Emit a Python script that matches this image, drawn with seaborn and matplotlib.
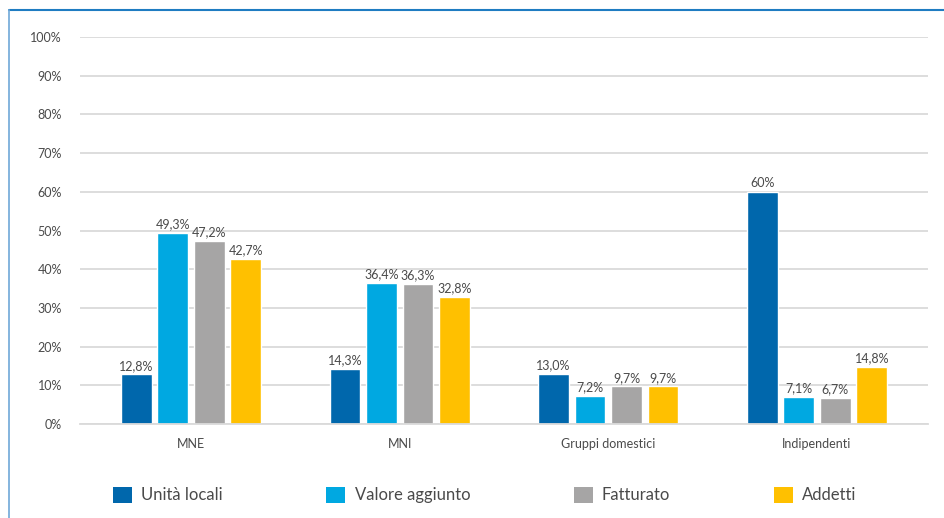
import matplotlib
matplotlib.use("Agg")
import matplotlib.pyplot as plt
from matplotlib.lines import Line2D
from matplotlib.patches import Patch
import seaborn as sns
import pandas as pd

categories = ["MNE", "MNI", "Gruppi domestici", "Indipendenti"]
series = ["Unità locali", "Valore aggiunto", "Fatturato", "Addetti"]
unita_locali = [12.8, 14.3, 13.0, 60.0]
valore_aggiunto = [49.3, 36.4, 7.2, 7.1]
fatturato = [47.2, 36.3, 9.7, 6.7]
addetti = [42.7, 32.8, 9.7, 14.8]
bar_labels = {
    "Unità locali": ["12,8%", "14,3%", "13,0%", "60%"],
    "Valore aggiunto": ["49,3%", "36,4%", "7,2%", "7,1%"],
    "Fatturato": ["47,2%", "36,3%", "9,7%", "6,7%"],
    "Addetti": ["42,7%", "32,8%", "9,7%", "14,8%"],
}
colors = ["#0067AC", "#00A8E1", "#A6A5A5", "#FFC000"]

rows = []
for name, vals in zip(series, [unita_locali, valore_aggiunto, fatturato, addetti]):
    for cat, v in zip(categories, vals):
        rows.append({"categoria": cat, "serie": name, "valore": v})
df = pd.DataFrame(rows)

sns.set_theme(style="white")
plt.rcParams["font.family"] = ["Lato", "DejaVu Sans"]
text_color = "#4a4a4a"

fig = plt.figure(figsize=(9.45, 5.18), dpi=100)
ax = fig.add_axes([80 / 945, 1 - 424 / 518, 848 / 945, 387 / 518])

sns.barplot(data=df, x="categoria", y="valore", hue="serie", order=categories,
            hue_order=series, palette=colors, width=0.70, gap=0.16,
            ax=ax, legend=False, saturation=1)

for container, name in zip(ax.containers, series):
    ax.bar_label(container, labels=bar_labels[name], padding=2,
                 fontsize=9, color=text_color)

ax.set_ylim(0, 100)
ax.set_xlim(-0.532, 3.532)
ax.set_yticks(range(0, 101, 10))
ax.set_yticklabels([f"{t}%" for t in range(0, 101, 10)])
ax.yaxis.grid(True, color="#dadada", linewidth=1.3)
ax.set_axisbelow(True)
for s in ["top", "right", "left"]:
    ax.spines[s].set_visible(False)
ax.spines["bottom"].set_color("#dadada")
ax.spines["bottom"].set_linewidth(1.3)
ax.tick_params(axis="y", length=0, pad=13, labelsize=9, labelcolor=text_color)
ax.tick_params(axis="x", length=0, pad=10, labelsize=9, labelcolor=text_color)
ax.set_xlabel("")
ax.set_ylabel("")

handles = [Patch(facecolor=c, edgecolor="none") for c in colors]
fig.legend(handles, series, loc="center left", bbox_to_anchor=(113 / 945, 1 - 495 / 518),
           ncol=4, frameon=False, fontsize=12, handlelength=1.15, handleheight=1.1,
           handletextpad=0.55, columnspacing=6.2, labelcolor=text_color,
           borderpad=0, borderaxespad=0)

# frame line at top and left
fig.add_artist(Line2D([9 / 945, 1], [1 - 10 / 518, 1 - 10 / 518],
                      color="#1F7CC2", linewidth=1.5))
fig.add_artist(Line2D([9 / 945, 9 / 945], [0, 1 - 10 / 518],
                      color="#6FA8D8", linewidth=1.2))

fig.savefig("out.png", dpi=100)
